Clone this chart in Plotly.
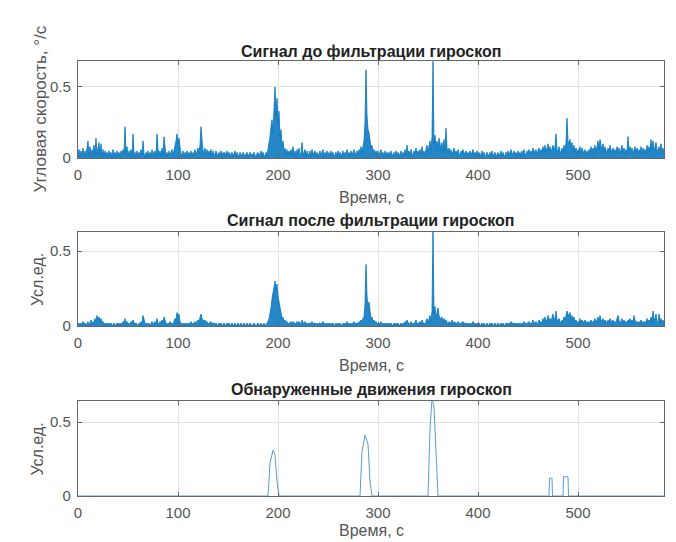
import plotly.graph_objects as go

# ---------------- data ----------------
time_s = list(range(0, 587))

raw_gyro = [
0.03,0.06,0.01,0.05,0.02,0.07,0.01,0.05,0.02,0.06,
0.12,0.02,0.08,0.01,0.06,0.03,0.09,0.02,0.14,0.03,
0.07,0.11,0.02,0.10,0.01,0.06,0.01,0.05,0.02,0.04,
0.01,0.05,0.02,0.04,0.00,0.06,0.02,0.04,0.01,0.05,
0.02,0.04,0.01,0.05,0.02,0.06,0.03,0.22,0.04,0.08,
0.01,0.05,0.02,0.06,0.01,0.17,0.03,0.04,0.01,0.05,
0.01,0.04,0.02,0.06,0.02,0.12,0.03,0.01,0.04,0.01,
0.05,0.01,0.04,0.01,0.06,0.02,0.04,0.05,0.01,0.17,
0.06,0.02,0.05,0.01,0.07,0.02,0.15,0.04,0.01,0.04,
0.01,0.05,0.02,0.04,0.06,0.02,0.05,0.08,0.12,0.17,
0.10,0.14,0.06,0.02,0.03,0.05,0.01,0.04,0.02,0.05,
0.01,0.04,0.02,0.05,0.01,0.04,0.02,0.06,0.02,0.05,
0.07,0.03,0.09,0.22,0.08,0.04,0.05,0.07,0.02,0.06,
0.02,0.05,0.02,0.06,0.01,0.05,0.02,0.03,0.05,0.02,
0.01,0.04,0.02,0.05,0.01,0.04,0.02,0.04,0.01,0.05,
0.02,0.04,0.01,0.03,0.04,0.01,0.03,0.05,0.01,0.04,
0.02,0.01,0.04,0.02,0.01,0.04,0.02,0.01,0.03,0.04,
0.01,0.03,0.04,0.01,0.03,0.01,0.04,0.02,0.01,0.03,
0.04,0.01,0.03,0.05,0.01,0.04,0.02,0.01,0.04,0.02,
0.06,0.10,0.15,0.22,0.27,0.18,0.35,0.50,0.30,0.42,
0.25,0.33,0.15,0.20,0.08,0.12,0.04,0.07,0.02,0.06,
0.02,0.05,0.03,0.06,0.02,0.08,0.02,0.05,0.01,0.06,
0.03,0.07,0.02,0.03,0.11,0.02,0.04,0.06,0.01,0.05,
0.02,0.03,0.05,0.01,0.06,0.02,0.04,0.05,0.01,0.04,
0.01,0.04,0.05,0.02,0.04,0.06,0.01,0.04,0.01,0.05,
0.02,0.04,0.01,0.05,0.02,0.04,0.01,0.03,0.04,0.01,
0.05,0.02,0.04,0.01,0.03,0.05,0.01,0.04,0.02,0.06,
0.02,0.04,0.01,0.05,0.02,0.04,0.06,0.02,0.04,0.05,
0.02,0.06,0.03,0.08,0.04,0.09,0.12,0.25,0.62,0.30,
0.20,0.18,0.10,0.07,0.09,0.04,0.06,0.02,0.05,0.02,
0.05,0.01,0.04,0.06,0.02,0.04,0.01,0.05,0.02,0.04,
0.01,0.04,0.02,0.05,0.01,0.03,0.04,0.01,0.05,0.02,
0.04,0.01,0.03,0.05,0.01,0.04,0.02,0.06,0.02,0.09,
0.03,0.05,0.02,0.06,0.03,0.02,0.05,0.03,0.07,0.02,
0.05,0.03,0.06,0.02,0.08,0.03,0.05,0.02,0.06,0.09,
0.04,0.08,0.12,0.05,0.15,0.68,0.10,0.16,0.07,0.12,
0.05,0.14,0.08,0.06,0.11,0.04,0.13,0.05,0.21,0.07,
0.04,0.07,0.03,0.06,0.02,0.05,0.07,0.03,0.05,0.02,
0.06,0.03,0.02,0.05,0.03,0.06,0.02,0.04,0.05,0.02,
0.04,0.01,0.05,0.02,0.04,0.06,0.02,0.04,0.01,0.05,
0.02,0.04,0.01,0.03,0.05,0.01,0.04,0.02,0.01,0.04,
0.02,0.01,0.04,0.02,0.05,0.01,0.03,0.04,0.01,0.03,
0.04,0.01,0.03,0.05,0.01,0.04,0.02,0.01,0.04,0.02,
0.05,0.02,0.04,0.06,0.02,0.04,0.05,0.02,0.04,0.01,
0.05,0.02,0.04,0.01,0.05,0.02,0.06,0.03,0.02,0.05,
0.03,0.06,0.02,0.05,0.03,0.07,0.04,0.03,0.06,0.02,
0.05,0.07,0.03,0.06,0.04,0.08,0.05,0.09,0.04,0.07,
0.10,0.05,0.08,0.04,0.07,0.09,0.05,0.08,0.17,0.06,
0.04,0.08,0.05,0.03,0.07,0.04,0.09,0.05,0.11,0.28,
0.12,0.10,0.13,0.07,0.11,0.05,0.09,0.04,0.07,0.03,
0.06,0.04,0.08,0.03,0.07,0.04,0.03,0.06,0.02,0.05,
0.03,0.06,0.04,0.08,0.03,0.07,0.05,0.09,0.04,0.08,
0.12,0.06,0.13,0.09,0.05,0.10,0.04,0.08,0.05,0.03,
0.07,0.04,0.09,0.05,0.03,0.07,0.04,0.06,0.03,0.08,
0.04,0.07,0.03,0.06,0.09,0.04,0.07,0.03,0.06,0.04,
0.15,0.05,0.08,0.04,0.07,0.03,0.06,0.08,0.04,0.07,
0.03,0.06,0.04,0.08,0.03,0.07,0.04,0.06,0.03,0.09,
0.05,0.08,0.04,0.13,0.06,0.12,0.05,0.09,0.11,0.06,
0.04,0.08,0.05,0.10,0.04,0.07,0.03,
]

filtered_gyro = [
0.01,0.02,0.00,0.02,0.01,0.03,0.01,0.02,0.00,0.02,
0.03,0.01,0.02,0.04,0.01,0.03,0.02,0.05,0.03,0.07,
0.04,0.06,0.03,0.05,0.02,0.03,0.01,0.02,0.01,0.02,
0.00,0.02,0.01,0.02,0.00,0.01,0.02,0.01,0.00,0.02,
0.01,0.02,0.00,0.02,0.01,0.03,0.02,0.05,0.02,0.03,
0.01,0.02,0.01,0.03,0.02,0.04,0.02,0.01,0.02,0.01,
0.00,0.02,0.01,0.03,0.02,0.07,0.03,0.02,0.01,0.02,
0.01,0.02,0.00,0.02,0.03,0.01,0.02,0.03,0.01,0.05,
0.02,0.01,0.03,0.02,0.04,0.02,0.06,0.03,0.02,0.01,
0.02,0.01,0.03,0.02,0.01,0.02,0.03,0.05,0.04,0.09,
0.06,0.08,0.03,0.02,0.01,0.02,0.01,0.02,0.00,0.02,
0.01,0.02,0.01,0.03,0.01,0.02,0.01,0.03,0.02,0.03,
0.04,0.03,0.06,0.08,0.05,0.04,0.03,0.04,0.02,0.03,
0.01,0.02,0.02,0.03,0.01,0.02,0.02,0.01,0.02,0.01,
0.00,0.02,0.01,0.02,0.00,0.01,0.02,0.01,0.00,0.02,
0.01,0.02,0.00,0.01,0.02,0.00,0.01,0.02,0.00,0.01,
0.02,0.00,0.01,0.02,0.00,0.01,0.02,0.00,0.01,0.02,
0.00,0.01,0.02,0.00,0.01,0.00,0.02,0.01,0.00,0.01,
0.02,0.00,0.01,0.02,0.00,0.01,0.02,0.00,0.01,0.02,
0.03,0.05,0.08,0.12,0.18,0.22,0.26,0.30,0.24,0.28,
0.20,0.16,0.10,0.08,0.05,0.06,0.03,0.04,0.02,0.03,
0.01,0.02,0.02,0.03,0.01,0.03,0.02,0.02,0.01,0.03,
0.02,0.03,0.02,0.01,0.04,0.02,0.02,0.03,0.01,0.02,
0.01,0.02,0.02,0.01,0.03,0.01,0.02,0.02,0.01,0.02,
0.00,0.02,0.02,0.01,0.02,0.03,0.01,0.02,0.00,0.02,
0.01,0.02,0.00,0.02,0.01,0.02,0.00,0.01,0.02,0.00,
0.02,0.01,0.02,0.00,0.01,0.02,0.00,0.02,0.01,0.03,
0.01,0.02,0.00,0.02,0.01,0.02,0.03,0.01,0.02,0.02,
0.01,0.03,0.02,0.04,0.03,0.05,0.06,0.15,0.41,0.20,
0.12,0.16,0.08,0.05,0.06,0.03,0.04,0.02,0.03,0.01,
0.02,0.01,0.02,0.03,0.01,0.02,0.00,0.02,0.01,0.02,
0.00,0.02,0.01,0.02,0.00,0.01,0.02,0.00,0.02,0.01,
0.02,0.00,0.01,0.02,0.00,0.02,0.01,0.03,0.01,0.04,
0.02,0.02,0.01,0.03,0.02,0.01,0.02,0.02,0.04,0.01,
0.02,0.02,0.03,0.01,0.04,0.02,0.02,0.01,0.03,0.05,
0.02,0.04,0.07,0.03,0.10,0.64,0.08,0.13,0.05,0.09,
0.12,0.07,0.05,0.04,0.06,0.02,0.05,0.03,0.04,0.02,
0.01,0.03,0.02,0.02,0.04,0.01,0.03,0.02,0.02,0.01,
0.03,0.02,0.01,0.02,0.02,0.03,0.01,0.02,0.02,0.01,
0.02,0.00,0.02,0.01,0.02,0.03,0.01,0.02,0.00,0.02,
0.01,0.02,0.00,0.01,0.02,0.00,0.02,0.01,0.00,0.02,
0.01,0.00,0.02,0.01,0.02,0.00,0.01,0.02,0.00,0.01,
0.02,0.00,0.01,0.02,0.00,0.02,0.01,0.00,0.02,0.01,
0.02,0.01,0.02,0.03,0.01,0.02,0.02,0.01,0.02,0.00,
0.02,0.01,0.02,0.00,0.02,0.01,0.03,0.02,0.01,0.02,
0.02,0.03,0.01,0.02,0.02,0.04,0.02,0.02,0.03,0.01,
0.02,0.04,0.02,0.03,0.02,0.05,0.03,0.06,0.03,0.04,
0.07,0.04,0.05,0.03,0.06,0.08,0.04,0.05,0.10,0.04,
0.03,0.05,0.03,0.02,0.04,0.03,0.06,0.04,0.07,0.10,
0.08,0.06,0.09,0.05,0.07,0.04,0.06,0.03,0.04,0.02,
0.03,0.02,0.05,0.02,0.04,0.03,0.02,0.04,0.01,0.03,
0.02,0.03,0.02,0.04,0.02,0.03,0.03,0.05,0.02,0.04,
0.06,0.03,0.07,0.04,0.03,0.05,0.02,0.04,0.03,0.02,
0.04,0.02,0.05,0.03,0.02,0.04,0.02,0.03,0.02,0.05,
0.07,0.04,0.02,0.03,0.05,0.02,0.04,0.02,0.03,0.02,
0.04,0.03,0.05,0.02,0.04,0.02,0.07,0.04,0.02,0.03,
0.02,0.03,0.02,0.04,0.02,0.03,0.02,0.03,0.02,0.05,
0.03,0.04,0.02,0.06,0.03,0.10,0.04,0.05,0.08,0.03,
0.02,0.08,0.03,0.05,0.02,0.04,0.02,
]

detect_t = [0, 190, 192, 195, 197, 199, 201, 282, 284, 287, 290, 292, 294,
            350, 352, 354, 356, 358, 360, 471, 471.5, 474, 474.5, 485, 485.5, 490, 490.5, 586]
detect_v = [0, 0, 0.22, 0.31, 0.28, 0.10, 0, 0, 0.30, 0.41, 0.35, 0.10, 0,
            0, 0.45, 0.66, 0.60, 0.30, 0, 0, 0.12, 0.12, 0, 0, 0.13, 0.13, 0, 0]

titles = ["Сигнал до фильтрации гироскоп",
          "Сигнал после фильтрации гироскоп",
          "Обнаруженные движения гироскоп"]
y_titles = ["Угловая скорость, °/с", "Усл.ед.", "Усл.ед."]
x_title = "Время, с"
x_ticks = [0, 100, 200, 300, 400, 500]
y_ticks = [0, 0.5]

# ---------------- layout geometry (pixels) ----------------
W, H = 676, 542
x_left, x_right = 70, 656
panels = [(53, 150, 0.683), (224, 318, 0.627), (393, 488, 0.642)]
title_y = [43, 212, 381]
xlabel_y = [189, 357, 522]
ytitle_x = [32, 29, 29]

blue = "#0072BD"
font_family = "Liberation Sans, Arial, sans-serif"

fig = go.Figure()
series = [(time_s, raw_gyro, True), (time_s, filtered_gyro, True),
          (detect_t, detect_v, False)]
for i, (xs, ys, filled) in enumerate(series):
    sfx = "" if i == 0 else str(i + 1)
    if filled:
        fig.add_trace(go.Scatter(x=xs, y=ys, mode="lines",
                                 line=dict(color=blue, width=0.8),
                                 fill="tozeroy", fillcolor="rgba(0,114,189,0.85)",
                                 xaxis="x" + sfx, yaxis="y" + sfx,
                                 showlegend=False, hoverinfo="skip"))
    else:
        fig.add_trace(go.Scatter(x=xs, y=ys, mode="lines",
                                 line=dict(color=blue, width=0.9), opacity=0.75,
                                 xaxis="x" + sfx, yaxis="y" + sfx,
                                 showlegend=False, hoverinfo="skip"))

layout = dict(width=W, height=H, margin=dict(l=0, r=0, t=0, b=0, autoexpand=False),
              paper_bgcolor="white", plot_bgcolor="white",
              font=dict(family=font_family, size=15, color="#444"),
              showlegend=False)

axis_common = dict(showline=True, linecolor="#666", linewidth=1.4, mirror="ticks",
                   ticks="inside", ticklen=4, tickcolor="#666", tickwidth=1,
                   showgrid=True, gridcolor="#e3e3e3", gridwidth=1, zeroline=False,
                   automargin=False,
                   tickfont=dict(family=font_family, size=15, color="#555"))

annotations = []
for i, (top, bot, ymax) in enumerate(panels):
    sfx = "" if i == 0 else str(i + 1)
    layout["xaxis" + sfx] = dict(axis_common, domain=[x_left / W, x_right / W],
                                 range=[0, 586], tickvals=x_ticks,
                                 anchor="y" + sfx, ticklabelstandoff=3)
    layout["yaxis" + sfx] = dict(axis_common, domain=[1 - bot / H, 1 - top / H],
                                 range=[0, ymax], tickvals=y_ticks,
                                 ticktext=["0", "0.5"],
                                 anchor="x" + sfx, ticklabelstandoff=3)
    annotations.append(dict(text="<b>" + titles[i] + "</b>", xref="paper", yref="paper",
                            x=(x_left + x_right) / 2 / W, y=1 - title_y[i] / H,
                            xanchor="center", yanchor="middle", showarrow=False,
                            font=dict(family=font_family, size=16, color="#222")))
    annotations.append(dict(text=x_title, xref="paper", yref="paper",
                            x=(x_left + x_right) / 2 / W, y=1 - xlabel_y[i] / H,
                            xanchor="center", yanchor="middle", showarrow=False,
                            font=dict(family=font_family, size=16, color="#555")))
    annotations.append(dict(text=y_titles[i], xref="paper", yref="paper",
                            x=ytitle_x[i] / W, y=1 - (top + bot) / 2 / H, textangle=-90,
                            xanchor="center", yanchor="middle", showarrow=False,
                            font=dict(family=font_family, size=17 if i == 0 else 16,
                                      color="#555")))

layout["annotations"] = annotations
fig.update_layout(**layout)
fig.write_html("out.html")
